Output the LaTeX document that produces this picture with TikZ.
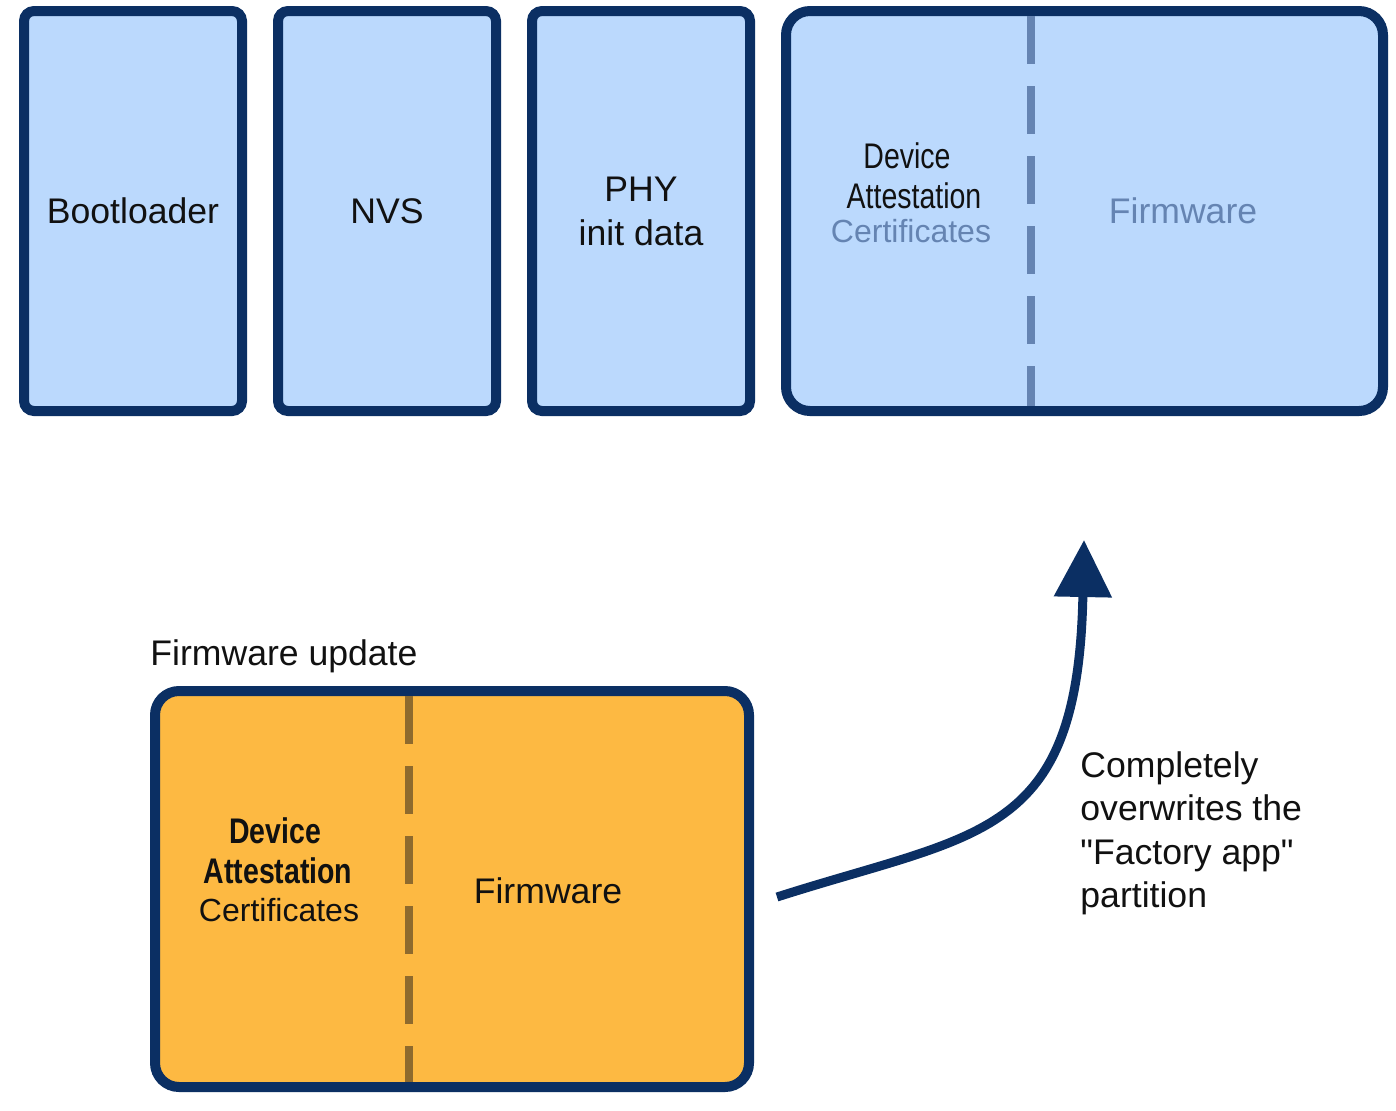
\documentclass[tikz,border=0pt]{standalone}
\usepackage{fontspec}
\setmainfont{Liberation Sans}[Ligatures=TeXOff]
\newfontfamily\narrowfont{Liberation Sans}[FakeStretch=0.8]
\usetikzlibrary{positioning, arrows.meta}
\definecolor{edge}{HTML}{0B2F63}
\definecolor{partfill}{HTML}{BBD9FD}
\definecolor{updfill}{HTML}{FDB942}
\definecolor{bluedash}{HTML}{6584B2}
\definecolor{browndash}{HTML}{8E6A2D}
\definecolor{ink}{HTML}{111111}

\begin{document}
\begin{tikzpicture}[x=0.5pt, y=-0.5pt, node distance=13pt,
    font=\fontsize{17.8}{22}\selectfont, text=ink,
    part/.style={draw=edge, fill=partfill, line width=5pt, rounded corners=5pt,
        minimum width=109pt, minimum height=200pt, align=center},
    bigpart/.style={part, rounded corners=12pt, minimum width=298.5pt},
    updpart/.style={bigpart, fill=updfill, minimum width=297pt, minimum height=198pt},
    divide/.style={line width=4pt, dash pattern=on 24pt off 11pt, shorten <=5pt, shorten >=5pt},
    lbl/.style={anchor=base, inner sep=0pt},
    cert/.style={lbl, font=\fontsize{16}{20}\selectfont},
    overwrite/.style={draw=edge, line width=4.5pt, -{Triangle[length=28.5pt, width=28pt]}},
]
\useasboundingbox (0,0) rectangle (1396,1110);

% flash partitions
\node (boot) [part] at (133,211) {Bootloader};
\node (nvs) [part, right=of boot] {NVS};
\node (phy) [part, right=of nvs] {PHY\\init data};
\node (fact) [bigpart, right=of phy] {};
\coordinate (factcut) at (1031,211);
\draw[divide, bluedash] (factcut |- fact.north) -- (factcut |- fact.south);
\node (factDev) [lbl] at (907,168) {\narrowfont Device};
\node (factAtt) [lbl] at (914,208) {\narrowfont Attestation};
\node (factCert) [cert, text=bluedash] at (911,242) {Certificates};
\node (factFw) [lbl, text=bluedash] at (1183,223) {Firmware};

% update image
\node (updTitle) [lbl, anchor=base west] at (150,665) {Firmware update};
\node (upd) [updpart] at (452,889) {};
\coordinate (updcut) at (409,889);
\draw[divide, browndash] (updcut |- upd.north) -- (updcut |- upd.south);
\node (updDev) [lbl] at (275,843) {\narrowfont\bfseries Device};
\node (updAtt) [lbl] at (278,883) {\narrowfont\bfseries Attestation};
\node (updCert) [cert] at (279,921) {Certificates};
\node (updFw) [lbl] at (548,903) {Firmware};

\coordinate (src) at (777,897);
\coordinate (dst) at (1084,540);
\draw[overwrite] (src) .. controls +(203,-65) and +(-6,300) .. (dst);
\node (note) [anchor=north west, inner sep=0pt, align=left,
    font=\fontsize{17.8}{21.75}\selectfont] at (1080,751)
    {Completely\\overwrites the\\"Factory app"\\partition};
\end{tikzpicture}
\end{document}
